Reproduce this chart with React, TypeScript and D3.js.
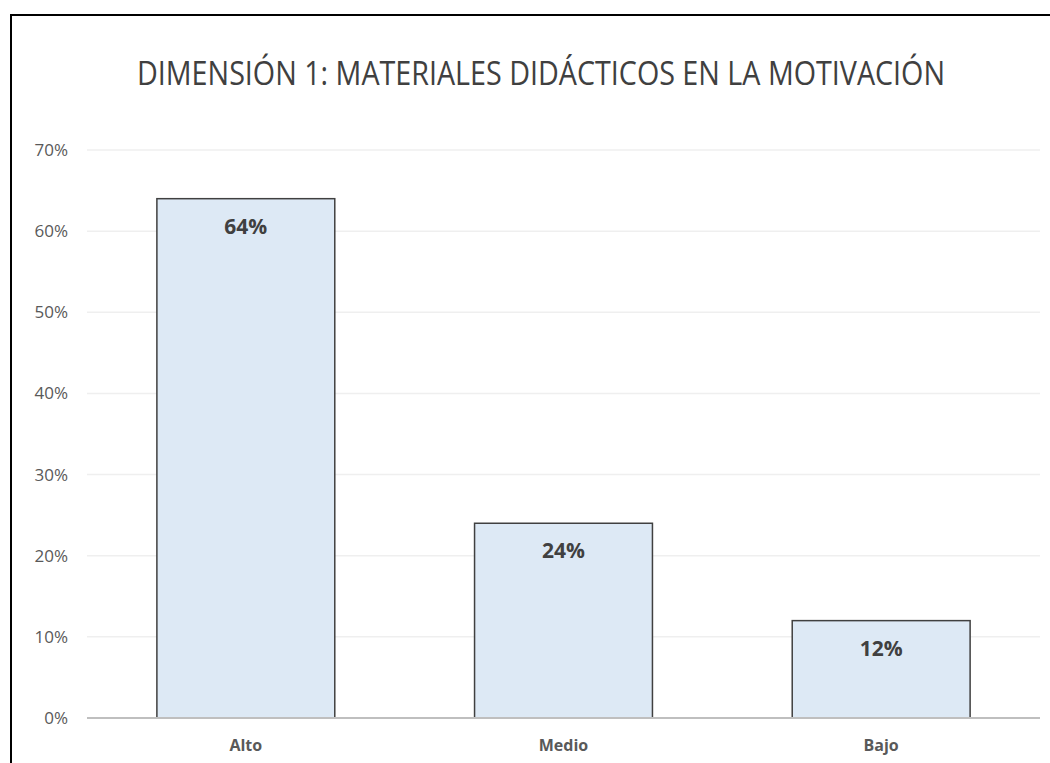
import React, { useEffect, useRef } from 'react';
import * as d3 from 'd3';

const categories = ['Alto', 'Medio', 'Bajo'];
const values = [0.64, 0.24, 0.12];
const yTicks = [0, 0.1, 0.2, 0.3, 0.4, 0.5, 0.6, 0.7];
const title = 'DIMENSIÓN 1: MATERIALES DIDÁCTICOS EN LA MOTIVACIÓN';

export default function App() {
  const svgRef = useRef<SVGSVGElement>(null);

  useEffect(() => {
    document.body.style.margin = '0';
    if (!svgRef.current) return;
    const svg = d3.select(svgRef.current);
    svg.selectAll('*').remove();

    const width = 1050;
    const height = 763;
    const font = '"Open Sans", sans-serif';

    // frame (top and left edges only visible)
    svg.append('path')
      .attr('d', `M11,${height} L11,15 L${width},15`)
      .attr('fill', 'none')
      .attr('stroke', '#000')
      .attr('stroke-width', 2);

    svg.append('text')
      .attr('x', 541)
      .attr('y', 85)
      .attr('text-anchor', 'middle')
      .attr('textLength', 808)
      .attr('lengthAdjust', 'spacingAndGlyphs')
      .style('font-family', font)
      .style('font-size', '32px')
      .style('fill', '#404040')
      .text(title);

    const x = d3.scaleBand().domain(categories).range([87, 1040]).paddingInner(0.44).paddingOuter(0.22);
    const y = d3.scaleLinear().domain([0, 0.7]).range([718, 150]);

    // gridlines
    svg.append('g')
      .selectAll('line')
      .data(yTicks.slice(1))
      .enter()
      .append('line')
      .attr('x1', 87)
      .attr('x2', 1040)
      .attr('y1', (d) => y(d))
      .attr('y2', (d) => y(d))
      .attr('stroke', '#efefef')
      .attr('stroke-width', 1.5);

    // y tick labels
    svg.append('g')
      .selectAll('text')
      .data(yTicks)
      .enter()
      .append('text')
      .attr('x', 68)
      .attr('y', (d) => y(d))
      .attr('dy', '0.35em')
      .attr('text-anchor', 'end')
      .style('font-family', font)
      .style('font-size', '17px')
      .style('fill', '#595959')
      .text((d) => d3.format('.0%')(d));

    // bars
    svg.append('g')
      .selectAll('rect')
      .data(values)
      .enter()
      .append('rect')
      .attr('x', (_, i) => x(categories[i]) as number)
      .attr('y', (d) => y(d))
      .attr('width', x.bandwidth())
      .attr('height', (d) => y(0) - y(d))
      .attr('fill', '#dde9f5')
      .attr('stroke', '#404040')
      .attr('stroke-width', 1.5);

    // value labels
    svg.append('g')
      .selectAll('text')
      .data(values)
      .enter()
      .append('text')
      .attr('x', (_, i) => (x(categories[i]) as number) + x.bandwidth() / 2)
      .attr('y', (d) => y(d) + 35)
      .attr('text-anchor', 'middle')
      .style('font-family', font)
      .style('font-size', '21px')
      .style('font-weight', 'bold')
      .style('fill', '#404040')
      .text((d) => d3.format('.0%')(d));

    // x axis line
    svg.append('line')
      .attr('x1', 87)
      .attr('x2', 1040)
      .attr('y1', y(0))
      .attr('y2', y(0))
      .attr('stroke', '#bfbfbf')
      .attr('stroke-width', 2);

    // category labels
    svg.append('g')
      .selectAll('text')
      .data(categories)
      .enter()
      .append('text')
      .attr('x', (d) => (x(d) as number) + x.bandwidth() / 2)
      .attr('y', 751)
      .attr('text-anchor', 'middle')
      .style('font-family', font)
      .style('font-size', '16px')
      .style('font-weight', 'bold')
      .style('fill', '#595959')
      .text((d) => d);
  }, []);

  return <svg ref={svgRef} width={1050} height={763} style={{ display: 'block' }}></svg>;
}
